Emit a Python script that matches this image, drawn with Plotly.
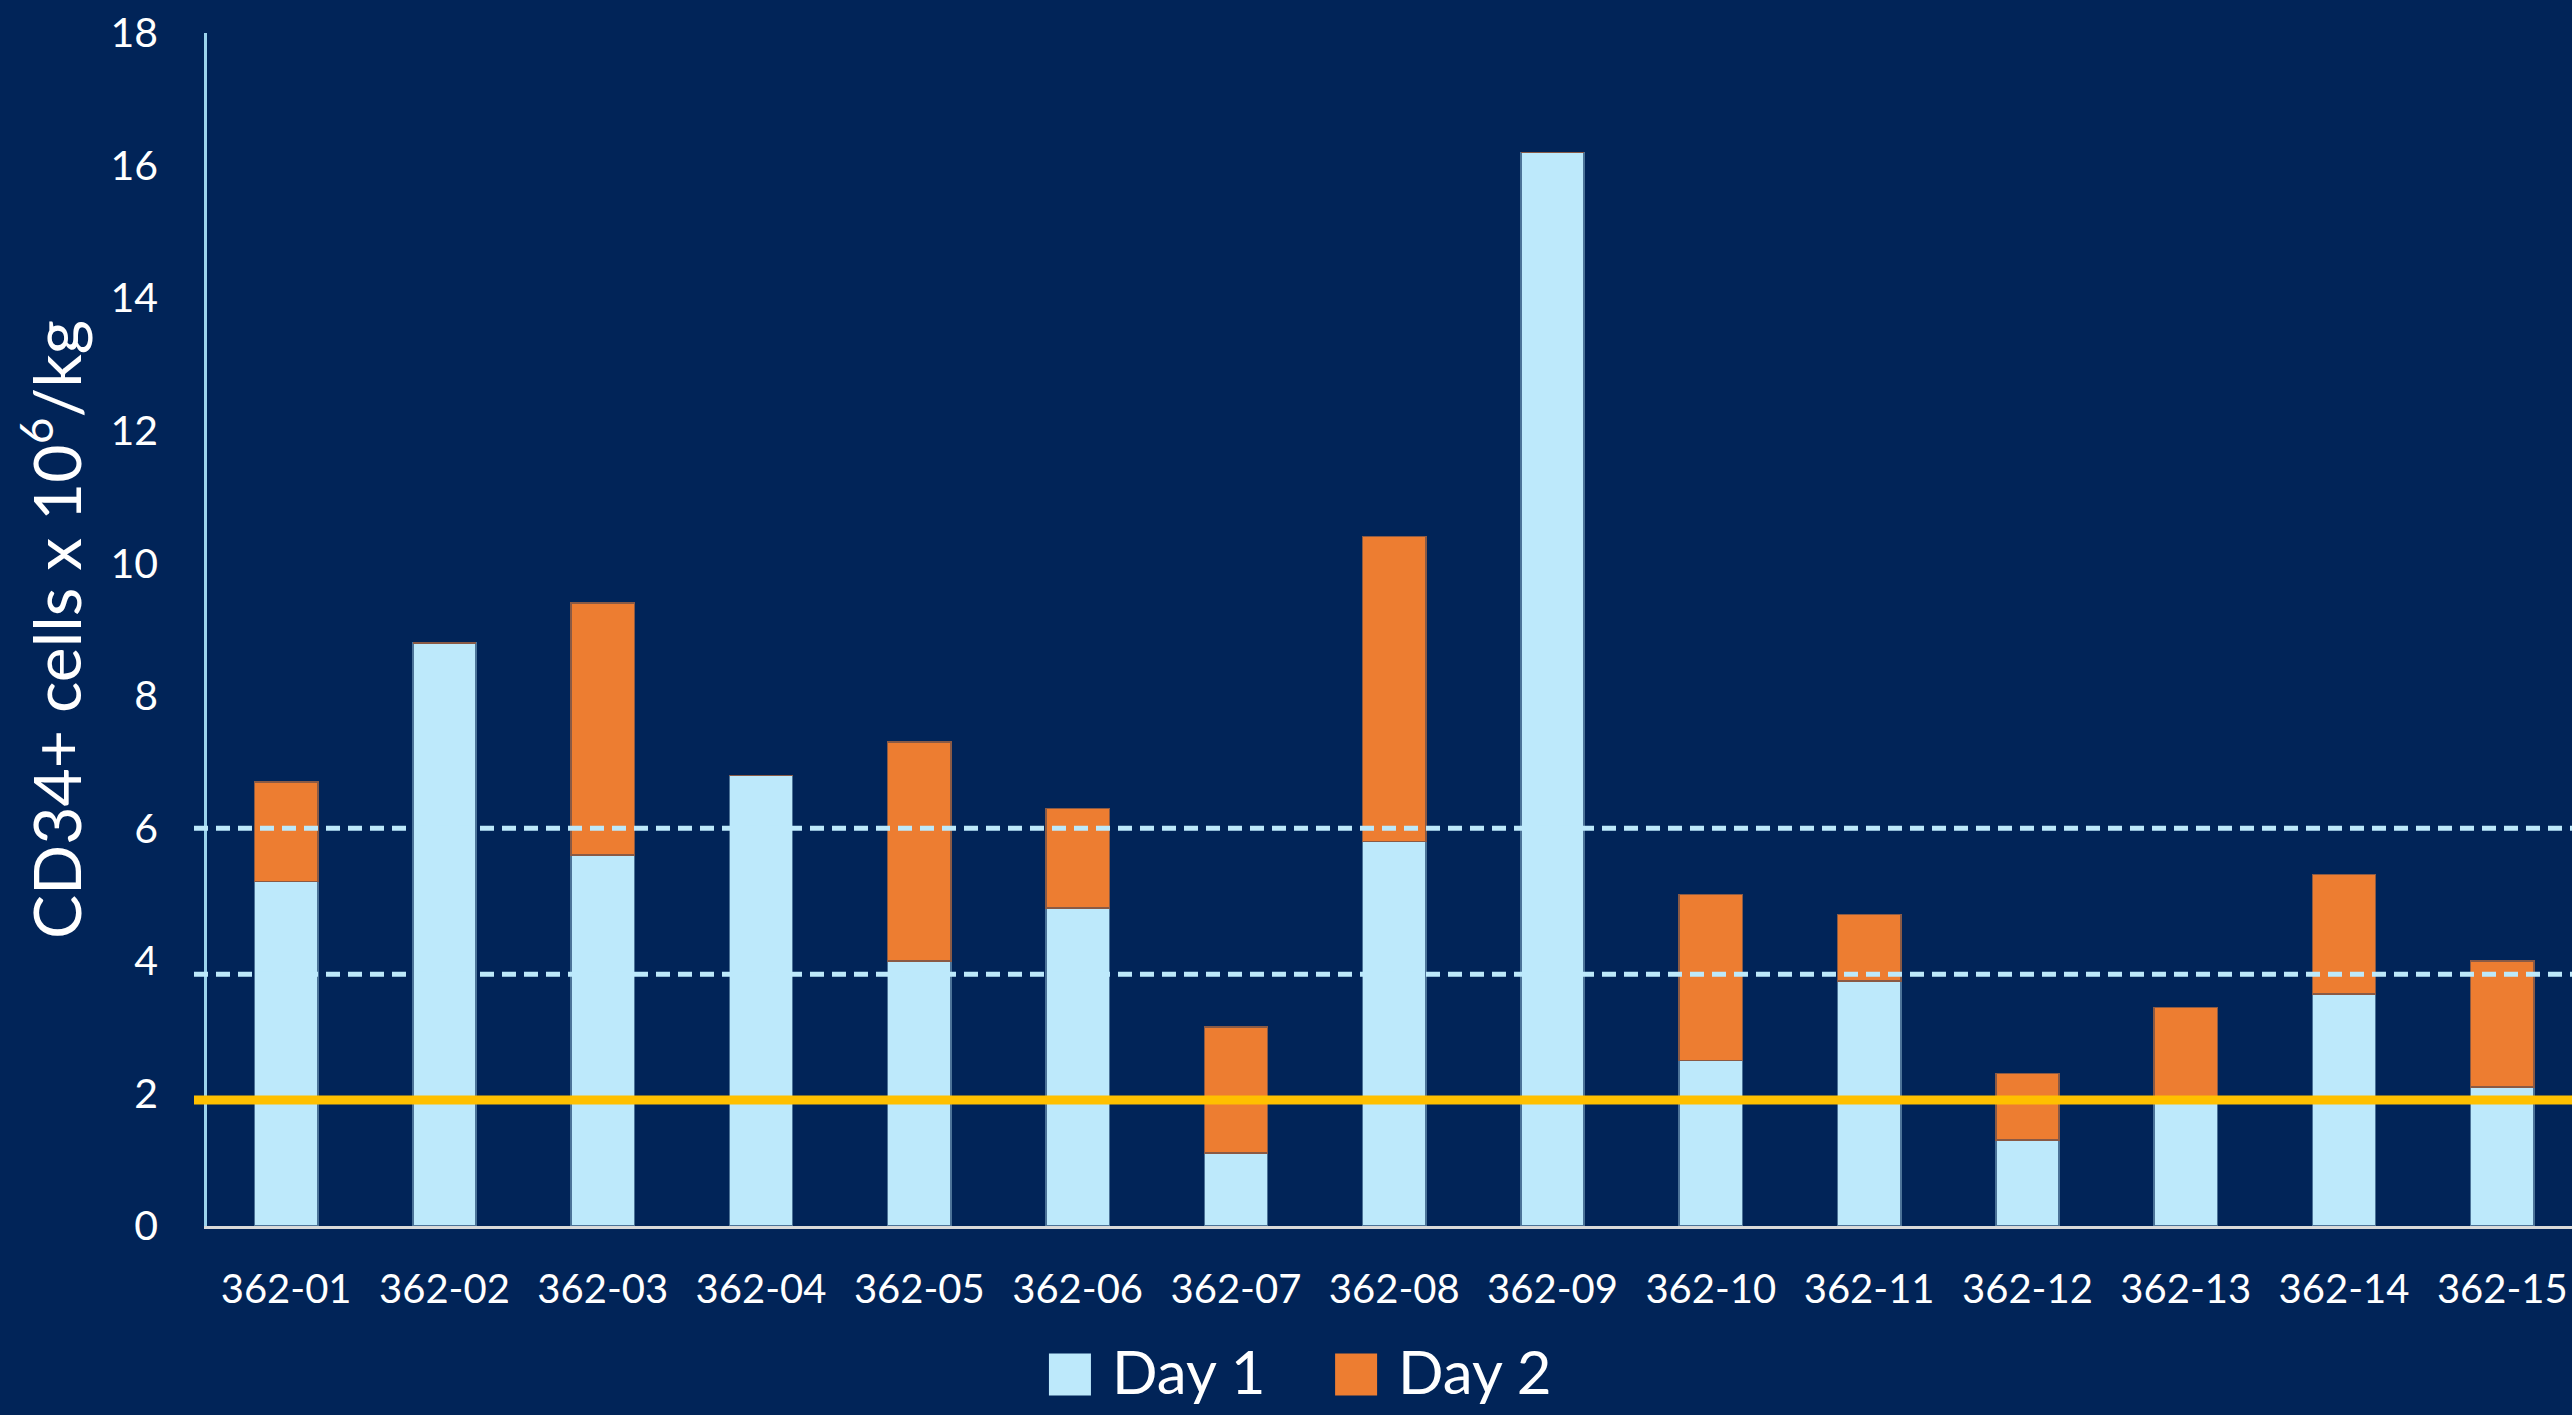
import plotly.graph_objects as go

patients = ["362-01", "362-02", "362-03", "362-04", "362-05", "362-06", "362-07", "362-08",
            "362-09", "362-10", "362-11", "362-12", "362-13", "362-14", "362-15"]
day1 = [5.2, 8.8, 5.6, 6.8, 4.0, 4.8, 1.1, 5.8, 16.2, 2.5, 3.7, 1.3, 1.9, 3.5, 2.1]
day2 = [1.5, 0, 3.8, 0, 3.3, 1.5, 1.9, 4.6, 0, 2.5, 1.0, 1.0, 1.4, 1.8, 1.9]
dashed_refs = [6.0, 3.8]
solid_ref = [1.9]
y_ticks = [0, 2, 4, 6, 8, 10, 12, 14, 16, 18]
series_names = ["Day 1", "Day 2"]

BG = "#012458"
LIGHT = "#BDE9FB"
ORANGE = "#ED7D31"
YELLOW = "#FFC000"
FONT = "Lato"

fig = go.Figure()
fig.add_trace(go.Bar(x=patients, y=day1, name=series_names[0], marker_color=LIGHT,
                     marker_line=dict(color="#4C7398", width=1.5), width=0.4, showlegend=False))
fig.add_trace(go.Bar(x=patients, y=day2, name=series_names[1], marker_color=ORANGE,
                     marker_line=dict(color="#8A5A45", width=1.5), width=0.4, showlegend=False))

for v in dashed_refs:
    fig.add_shape(type="line", xref="paper", yref="y", x0=-0.0055, x1=1, y0=v, y1=v,
                  line=dict(color=LIGHT, width=5, dash="14px,8px"), layer="above")
for v in solid_ref:
    fig.add_shape(type="line", xref="paper", yref="y", x0=-0.0055, x1=1, y0=v, y1=v,
                  line=dict(color=YELLOW, width=9), layer="above")

# legend drawn as layout decoration
leg_y = -0.1245
sq_h = 42 / 1192.7
sq_w = 42 / 2365
items = [(0.356, LIGHT, series_names[0]), (0.477, ORANGE, series_names[1])]
for x0, col, name in items:
    fig.add_shape(type="rect", xref="paper", yref="paper", x0=x0, x1=x0 + sq_w,
                  y0=leg_y - sq_h / 2, y1=leg_y + sq_h / 2, fillcolor=col, line=dict(width=0))
    fig.add_annotation(xref="paper", yref="paper", x=x0 + sq_w + 0.008, y=-0.1215,
                       text=name, showarrow=False, xanchor="left", yanchor="middle",
                       font=dict(family=FONT, size=60, color="white"))

fig.update_layout(
    width=2572, height=1415,
    paper_bgcolor=BG, plot_bgcolor=BG,
    barmode="stack", bargap=0.6,
    margin=dict(l=207, r=0, t=33, b=189),
    font=dict(family=FONT, color="white"),
    showlegend=False,
)
fig.update_xaxes(
    range=[-0.5, 14.44], showline=True, linecolor="#D9D9D9", linewidth=2.5,
    showgrid=False, zeroline=False, ticks="outside", ticklen=26, tickcolor="rgba(0,0,0,0)",
    tickfont=dict(family=FONT, size=40, color="white"),
)
fig.update_yaxes(
    range=[0, 18], tickvals=y_ticks, showline=True, linecolor="#9BD3EC", linewidth=2.5,
    showgrid=False, zeroline=False, ticks="outside", ticklen=38, tickcolor="rgba(0,0,0,0)",
    tickfont=dict(family=FONT, size=41, color="white"),
    title=dict(text="CD34+ cells x 10<sup>6</sup>/kg", font=dict(family=FONT, size=66, color="white"),
               standoff=8),
)

fig.write_html("out.html")
